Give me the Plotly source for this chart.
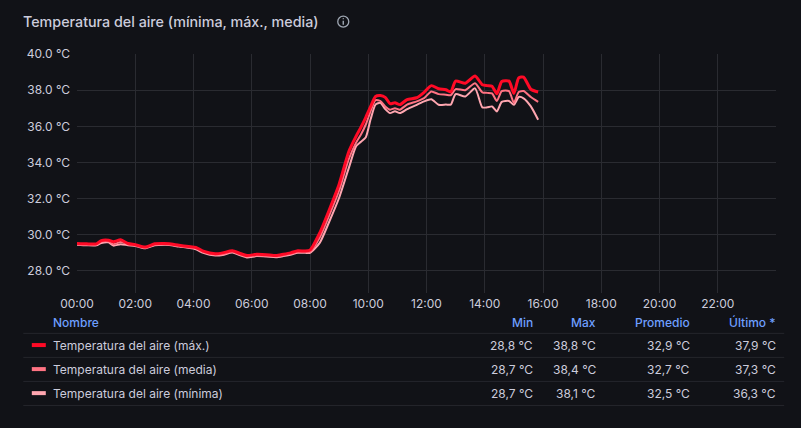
import plotly.graph_objects as go

# horas de lectura (mismo día)
times = ["00:00", "00:20", "00:40", "00:50", "01:05", "01:15", "01:30", "01:45",
         "02:00", "02:20", "02:40", "03:00", "03:10", "03:30", "03:50", "04:05",
         "04:20", "04:45", "05:00", "05:20", "05:35", "05:50", "06:10", "06:30",
         "06:50", "07:05", "07:20", "07:35", "07:50", "08:00", "08:20", "08:40",
         "09:00", "09:20", "09:35", "09:45", "09:55", "10:05", "10:15", "10:25",
         "10:35", "10:45", "10:55", "11:05", "11:20", "11:40", "11:55", "12:10",
         "12:25", "12:40", "12:50", "13:00", "13:20", "13:40", "13:55", "14:05",
         "14:15", "14:25", "14:35", "14:50", "15:00", "15:10", "15:20", "15:35",
         "15:50"]

t_max = [29.52, 29.50, 29.50, 29.68, 29.70, 29.62, 29.72, 29.52,
         29.45, 29.32, 29.50, 29.52, 29.50, 29.42, 29.35, 29.30,
         29.10, 28.95, 29.00, 29.12, 28.98, 28.85, 28.92, 28.90,
         28.85, 28.92, 29.00, 29.12, 29.10, 29.15, 30.10, 31.40,
         32.80, 34.60, 35.45, 35.95, 36.50, 37.10, 37.65, 37.70,
         37.60, 37.25, 37.30, 37.20, 37.48, 37.58, 37.88, 38.25,
         38.08, 38.02, 37.90, 38.50, 38.38, 38.78, 38.30, 38.25,
         38.22, 37.80, 38.48, 38.50, 37.82, 38.68, 38.72, 38.05,
         37.90]

t_media = [29.48, 29.45, 29.46, 29.62, 29.64, 29.48, 29.60, 29.48,
           29.42, 29.28, 29.46, 29.48, 29.46, 29.38, 29.30, 29.25,
           29.05, 28.90, 28.92, 29.06, 28.92, 28.80, 28.86, 28.84,
           28.80, 28.86, 28.95, 29.05, 29.05, 29.05, 29.85, 31.10,
           32.45, 34.20, 35.10, 35.55, 36.10, 36.85, 37.45, 37.40,
           37.10, 36.92, 37.00, 36.92, 37.20, 37.38, 37.56, 37.93,
           37.78, 37.75, 37.72, 38.06, 38.00, 38.38, 37.88, 37.85,
           37.82, 37.40, 37.95, 37.95, 37.30, 37.90, 37.95, 37.62,
           37.35]

t_min = [29.45, 29.42, 29.42, 29.55, 29.58, 29.40, 29.48, 29.42,
         29.38, 29.25, 29.42, 29.45, 29.44, 29.35, 29.28, 29.20,
         29.00, 28.85, 28.88, 29.02, 28.88, 28.75, 28.82, 28.80,
         28.76, 28.82, 28.90, 29.00, 29.00, 29.00, 29.55, 30.75,
         32.05, 33.70, 34.90, 35.15, 35.40, 36.40, 37.20, 37.30,
         36.95, 36.73, 36.83, 36.73, 36.95, 37.19, 37.38, 37.50,
         37.19, 37.20, 37.20, 37.78, 37.65, 38.10, 37.05, 37.05,
         37.10, 36.82, 37.35, 37.40, 37.19, 37.62, 37.55, 37.10,
         36.36]

names = ["Temperatura del aire (máx.)", "Temperatura del aire (media)",
         "Temperatura del aire (mínima)"]
colors = ["#FF0A26", "#FF7383", "#FFA6B0"]
stat_min = [28.8, 28.7, 28.7]
stat_max = [38.8, 38.4, 38.1]
stat_avg = [32.9, 32.7, 32.5]
stat_last = [37.9, 37.3, 36.3]

y_ticks = [28, 30, 32, 34, 36, 38, 40]
x_ticks = ["00:00", "02:00", "04:00", "06:00", "08:00", "10:00",
           "12:00", "14:00", "16:00", "18:00", "20:00", "22:00"]

day = "2024-06-01 "
xs = [day + t for t in times]

W, H = 801, 428
L, R, T, B = 76.7, 775.8, 54.3, 293.0


def px(x):
    return (x - L) / (R - L)


def py(y):
    return (B - y) / (B - T)


fig = go.Figure()
series = [t_max, t_media, t_min]
widths = [3, 2, 2]
for i in [2, 1, 0]:
    fig.add_trace(go.Scatter(
        x=xs, y=series[i], mode="lines", name=names[i],
        line=dict(color=colors[i], width=widths[i], shape="spline", smoothing=0.6),
        showlegend=False, hoverinfo="skip"))

txt = "#ccccdc"
blue = "#6e9fff"
font = "Inter"
icon = "#9fa7b3"

ann = []
shapes = []
ann.append(dict(x=px(21), y=py(22), xref="paper", yref="paper", xanchor="left",
                yanchor="middle", showarrow=False,
                text="Temperatura del aire (mínima, máx., media)",
                font=dict(family=font, size=14.3, color=txt, weight=500)))
# icono de información
shapes.append(dict(type="circle", xref="paper", yref="paper",
                   x0=px(337.5), x1=px(348.5), y0=py(16.5), y1=py(27.5),
                   line=dict(color=icon, width=1.3)))
shapes.append(dict(type="line", xref="paper", yref="paper",
                   x0=px(343), x1=px(343), y0=py(21), y1=py(25),
                   line=dict(color=icon, width=1.4)))
shapes.append(dict(type="circle", xref="paper", yref="paper",
                   x0=px(342.3), x1=px(343.7), y0=py(18.3), y1=py(19.7),
                   fillcolor=icon, line=dict(width=0)))

# cabecera de la tabla de leyenda
hy = 322
ann.append(dict(x=px(51), y=py(hy), xref="paper", yref="paper", xanchor="left",
                yanchor="middle", showarrow=False, text="Nombre",
                font=dict(family=font, size=12, color=blue, weight=500)))
cols_x = [535, 598, 692, 778]
heads = ["Min", "Max", "Promedio", "Último *"]
for cx, h in zip(cols_x, heads):
    ann.append(dict(x=px(cx), y=py(hy), xref="paper", yref="paper", xanchor="right",
                    yanchor="middle", showarrow=False, text=h,
                    font=dict(family=font, size=12, color=blue, weight=500)))

for ly in [333.3, 357.3, 381.3, 405.3]:
    shapes.append(dict(type="line", xref="paper", yref="paper",
                       x0=px(23), x1=px(784), y0=py(ly), y1=py(ly),
                       line=dict(color="#25262c", width=1)))


def fmt(v):
    return ("%.1f" % v).replace(".", ",") + " °C"


for i in range(3):
    ry = 345 + 24 * i
    shapes.append(dict(type="rect", xref="paper", yref="paper",
                       x0=px(31.5), x1=px(45.5), y0=py(ry - 2), y1=py(ry + 2),
                       fillcolor=colors[i], line=dict(width=0)))
    ann.append(dict(x=px(51), y=py(ry), xref="paper", yref="paper", xanchor="left",
                    yanchor="middle", showarrow=False, text=names[i],
                    font=dict(family=font, size=12, color=txt)))
    vals = [stat_min[i], stat_max[i], stat_avg[i], stat_last[i]]
    for cx, v in zip(cols_x, vals):
        ann.append(dict(x=px(cx), y=py(ry), xref="paper", yref="paper", xanchor="right",
                        yanchor="middle", showarrow=False, text=fmt(v),
                        font=dict(family=font, size=12, color=txt)))

fig.update_layout(
    width=W, height=H,
    margin=dict(l=L, r=W - R, t=T, b=H - B, pad=0),
    paper_bgcolor="#111217", plot_bgcolor="#111217",
    font=dict(family=font, size=12, color=txt),
    annotations=ann, shapes=shapes,
    xaxis=dict(type="date", range=[day + "00:00", "2024-06-02 00:00"],
               tickvals=[day + t for t in x_ticks], ticktext=x_ticks,
               showgrid=True, gridcolor="#2a2b31", gridwidth=1,
               zeroline=False, showline=False, ticks="", ticklabelstandoff=2,
               tickfont=dict(family=font, size=12, color=txt)),
    yaxis=dict(range=[26.78, 40.0], tickvals=y_ticks,
               ticktext=["%.1f °C" % v for v in y_ticks],
               showgrid=True, gridcolor="#2a2b31", gridwidth=1,
               zeroline=False, showline=False, ticks="", ticklabelstandoff=6,
               tickfont=dict(family=font, size=12, color=txt)),
)

fig.write_html("out.html", config={"displayModeBar": False}, post_script=(
    "document.body.style.margin='0';"
    "document.body.style.background='#111217';"))
